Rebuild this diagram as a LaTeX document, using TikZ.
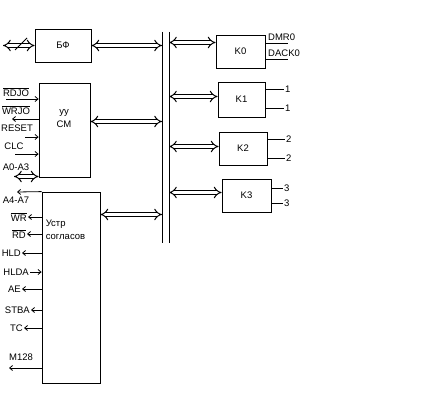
\documentclass[tikz,border=0pt]{standalone}
\usepackage{fontspec}
\setmainfont{Liberation Sans}
\usetikzlibrary{positioning,calc,arrows.meta}
\newcommand{\sigfont}{\fontsize{9.5}{11}\selectfont}
\newcommand{\ovl}[1]{$\overline{\hbox{#1}}$}
\tikzset{
blk/.style={draw=black,line width=0.8pt,inner sep=0pt,font=\sigfont},
sig/.style={font=\sigfont,inner sep=1pt},
dbl/.style={double,double distance=3pt,line width=1pt,{Implies}-{Implies}},
sarr/.style={line width=0.8pt,-{Straight Barb[length=3pt,width=5pt]}},
wire/.style={line width=0.8pt}
}

\begin{document}
\begin{tikzpicture}[x=1pt,y=-1pt]
\useasboundingbox (0,0) rectangle (430,417);
% system bus
\coordinate (busLt) at (162,32); \coordinate (busLb) at (162,243);
\coordinate (busRt) at (169,32); \coordinate (busRb) at (169,243);
\draw[wire] (busLt) -- (busLb);
\draw[wire] (busRt) -- (busRb);
% left blocks
\node[blk,minimum width=56pt,minimum height=33pt] (bf) at (63,45.5) {БФ};
\node[blk,minimum width=51pt,minimum height=94pt] (uu) at (64.5,130) {};
\node[sig] (uu1) at (64,113) {уу};
\node[sig] (uu2) at (64,124) {СМ};
\node[blk,minimum width=58pt,minimum height=191pt] (ustr) at (71,287.5) {};
\node[sig,align=left,anchor=north west] (ustrtxt) at ([shift={(3pt,-27pt)}]ustr.north west) {Устр\\[2pt]согласов};
% channels
\node[blk,minimum width=49pt,minimum height=33pt] (k0) at (240.5,51.5) {K0};
\node[blk,minimum width=47pt,minimum height=35pt] (k1) at (241.5,99.5) {K1};
\node[blk,minimum width=48pt,minimum height=33pt] (k2) at (243,148.5) {K2};
\node[blk,minimum width=49pt,minimum height=33pt] (k3) at (246.5,195.5) {K3};
% bus links
\coordinate (uuin) at ([yshift=8.5pt]uu.east);
\coordinate (ustrin) at ([yshift=73pt]ustr.east);
\coordinate (k0in) at ([yshift=9pt]k0.west);
\coordinate (k1in) at ([yshift=3pt]k1.west);
\coordinate (k2in) at ([yshift=2pt]k2.west);
\coordinate (k3in) at ([yshift=3pt]k3.west);
\draw[dbl] (bf.east) -- (bf.east -| busLt);
\draw[dbl] (uuin.center) -- (uuin -| busLt);
\draw[dbl] (ustrin.center) -- (ustrin -| busLt);
\draw[dbl] (k0in -| busRt) -- (k0in.center);
\draw[dbl] (k1in -| busRt) -- (k1in.center);
\draw[dbl] (k2in -| busRt) -- (k2in.center);
\draw[dbl] (k3in -| busRt) -- (k3in.center);
% data bus input
\coordinate (bfext) at (3,45.5);
\coordinate (slashA) at (15,50); \coordinate (slashB) at (27,38);
\draw[dbl] (bfext) -- (bf.west);
\draw[wire] (slashA) -- (slashB);
% channel outputs
\node[sig,inner sep=2pt,anchor=south west] (dmr) at (266,43) {DMR0};
\node[sig,inner sep=2pt,anchor=south west] (dack) at (266,59) {DACK0};
\coordinate (dmr-e) at (288,43);
\coordinate (dack-e) at (288,59);
\draw[wire] (dmr-e -| k0.east) -- (dmr-e);
\draw[wire] (dack-e -| k0.east) -- (dack-e);
\node[sig,anchor=west] (k1a) at (284,89) {1};
\node[sig,anchor=west] (k1b) at (284,108) {1};
\draw[wire] (k1a -| k1.east) -- (k1a.west);
\draw[wire] (k1b -| k1.east) -- (k1b.west);
\node[sig,anchor=west] (k2a) at (285,139) {2};
\node[sig,anchor=west] (k2b) at (285,158) {2};
\draw[wire] (k2a -| k2.east) -- (k2a.west);
\draw[wire] (k2b -| k2.east) -- (k2b.west);
\node[sig,anchor=west] (k3a) at (283,188) {3};
\node[sig,anchor=west] (k3b) at (283,203) {3};
\draw[wire] (k3a -| k3.east) -- (k3a.west);
\draw[wire] (k3b -| k3.east) -- (k3b.west);
% control unit signals
\node[sig] (rdjo) at (16,92) {\ovl{RDJO}};
\node[sig] (wrjo) at (16,110) {\ovl{WRJO}};
\node[sig] (reset) at (17,128) {RESET};
\node[sig] (clc) at (14,146) {CLC};
\node[sig] (a03) at (16,167) {A0-A3};
\coordinate (rdjo-s) at (6,99);
\coordinate (wrjo-e) at (12,119);
\coordinate (reset-s) at (25,137);
\coordinate (clc-s) at (15,154);
\coordinate (a03-e) at (14,176.5);
\draw[sarr] (rdjo-s) -- (rdjo-s -| uu.west);
\draw[sarr] (wrjo-e -| uu.west) -- (wrjo-e);
\draw[sarr] (reset-s) -- (reset-s -| uu.west);
\draw[sarr] (clc-s) -- (clc-s -| uu.west);
\draw[dbl] (a03-e.center) -- (a03-e -| uu.west);
% interface signals
\node[sig] (a47) at (16,200) {A4-A7};
\coordinate (a47-e) at (17,192);
\draw[sarr] (ustr.north west) -- (a47-e);
\node[sig,anchor=east] (wr) at (28,217) {\ovl{WR}};
\node[sig,anchor=east] (rd) at (27,234) {\ovl{RD}};
\node[sig,anchor=east] (hld) at (22,253) {HLD};
\node[sig,anchor=east] (hlda) at (30,272) {HLDA};
\node[sig,anchor=east] (ae) at (22,289) {AE};
\node[sig,anchor=east] (stba) at (31,310) {STBA};
\node[sig,anchor=east] (tc) at (24,328) {TC};
\node[sig] (m128) at (21,357) {M128};
\coordinate (m128-e) at (9,368);
\draw[sarr] (wr.east -| ustr.west) -- (wr.east);
\draw[sarr] (rd.east -| ustr.west) -- (rd.east);
\draw[sarr] (hld.east -| ustr.west) -- (hld.east);
\draw[sarr] (hlda.east) -- (hlda.east -| ustr.west);
\draw[sarr] (ae.east -| ustr.west) -- (ae.east);
\draw[sarr] (stba.east -| ustr.west) -- (stba.east);
\draw[sarr] (tc.east -| ustr.west) -- (tc.east);
\draw[sarr] (m128-e -| ustr.west) -- (m128-e);
\end{tikzpicture}
\end{document}
